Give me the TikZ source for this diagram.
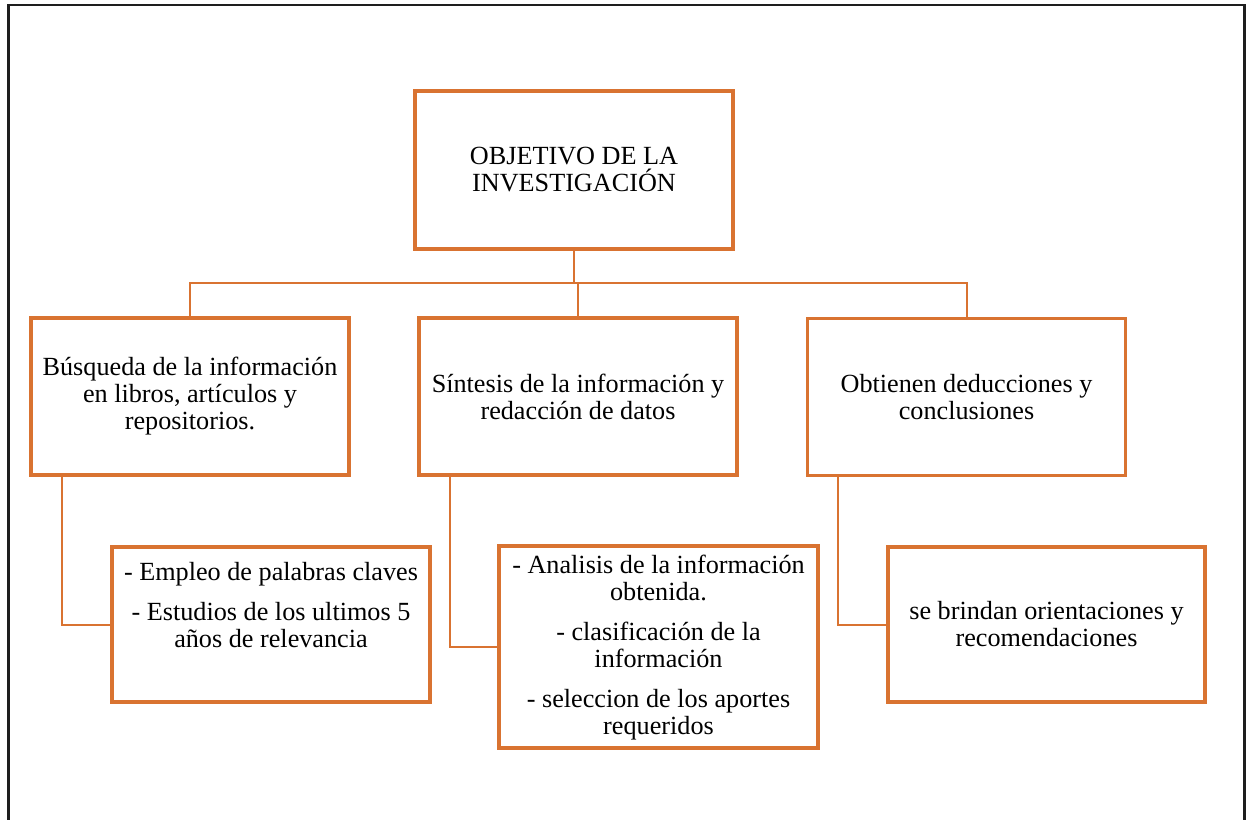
\documentclass[tikz,border=0pt]{standalone}
\usepackage{fontspec}
\setmainfont{Liberation Serif}
\definecolor{boxorange}{RGB}{217,115,49}
\definecolor{framegray}{RGB}{30,30,30}
\tikzset{
  box/.style={draw=boxorange, line width=3.5pt, minimum width=318pt, minimum height=157pt, inner sep=0pt},
  txt/.style={align=center, inner sep=0pt, font=\fontsize{26.2}{27}\selectfont},
  conn/.style={draw=boxorange, line width=2pt},
  frameline/.style={draw=framegray},
}
\begin{document}
\begin{tikzpicture}[x=1pt,y=-1pt]
\useasboundingbox (0,0) rectangle (1247,820);
% frame
\draw[frameline, line width=2pt] (7,5) -- (1246,5);
\draw[frameline, line width=3pt] (8.5,4) -- (8.5,820);
\draw[frameline, line width=3pt] (1244.5,4) -- (1244.5,820);
% boxes
\node[box, minimum height=158pt] (top) at (574,170) {};
\node[txt] (toptxt) at (top.center) {OBJETIVO DE LA\\INVESTIGACIÓN};
\node[box] (b1) at (190,396.5) {};
\node[txt] (b1txt) at (b1.center) {Búsqueda de la información\\en libros, artículos y\\repositorios.};
\node[box] (b2) at (578,396.5) {};
\node[txt] (b2txt) at (b2.center) {Síntesis de la información y\\redacción de datos};
\node[box] (b3) at (966.5,397) {};
\node[txt] (b3txt) at (b3.center) {Obtienen deducciones y\\conclusiones};
\node[box, minimum height=155pt] (s1) at (271,624.5) {};
\node[txt, anchor=north] (s1txt) at ([yshift=-17pt]s1.north) {- Empleo de palabras claves\\[12.5pt]- Estudios de los ultimos 5\\años de relevancia};
\node[box, minimum height=202pt, minimum width=319pt] (s2) at (658.5,647) {};
\node[txt] (s2txt) at ([yshift=-0.5pt]s2.center) {- Analisis de la información\\obtenida.\\[13pt]- clasificación de la\\información\\[13pt]- seleccion de los aportes\\requeridos};
\node[box, minimum height=155pt, minimum width=317pt] (s3) at (1046.5,624.5) {};
\node[txt] (s3txt) at (s3.center) {se brindan orientaciones y\\recomendaciones};
% connectors
\coordinate (bus) at (575,283);
\draw[conn] (top.south) -- (top.south |- bus);
\draw[conn] (b1.north) -- (b1.north |- bus) -- (b3.north |- bus) -- (b3.north);
\draw[conn] (b2.north) -- (b2.north |- bus);
\draw[conn] ([xshift=33pt]b1.south west) |- (s1.west);
\draw[conn] ([xshift=33pt]b2.south west) |- (s2.west);
\draw[conn] ([xshift=32pt]b3.south west) |- (s3.west);
\end{tikzpicture}
\end{document}
